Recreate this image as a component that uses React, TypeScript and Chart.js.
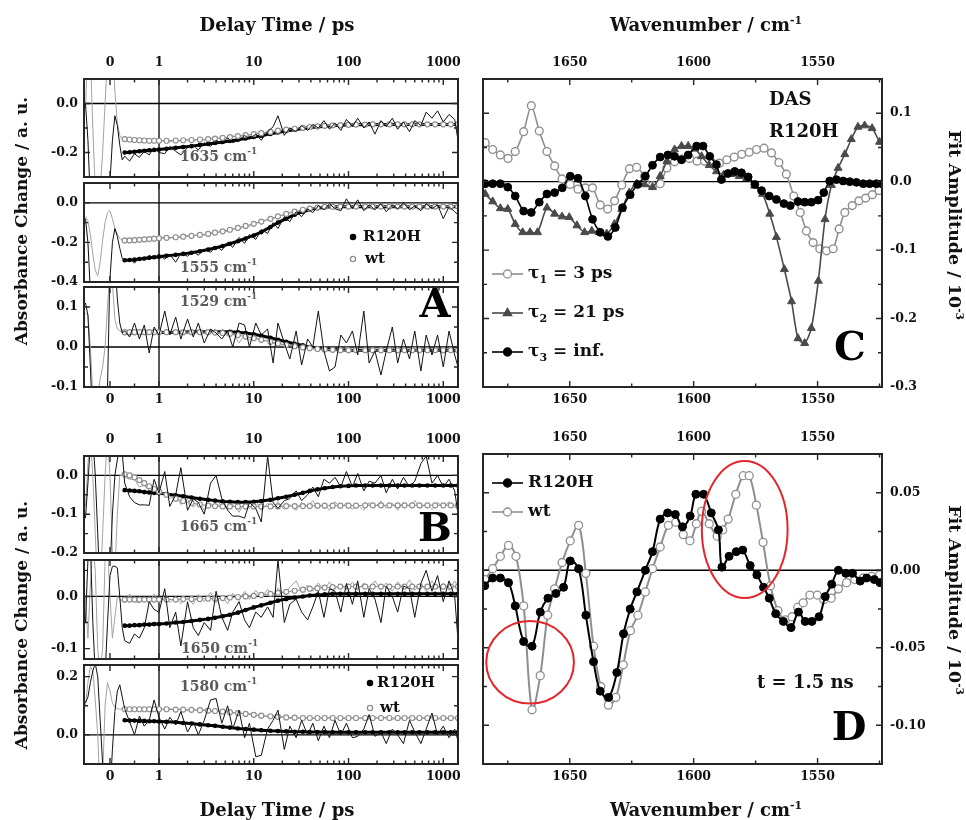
import React, { useEffect, useRef } from 'react';
import { Chart, registerables, Scale } from 'chart.js';

Chart.register(...registerables);

const W = 966;
const H = 820;
const SERIF = '"DejaVu Serif", "Liberation Serif", serif';
const FRAME = '#262626';
const GRAY = '#8f8f8f';
const GRAY_RAW = '#a3a3a3';
const DARK = '#4a4a4a';
const LABEL_GRAY = '#5a5a5a';

// ---------------- delay-time traces (ps) ----------------
const RAW_T = [
  -0.5, -0.45, -0.4, -0.35, -0.3, -0.25, -0.2, -0.15, -0.1, -0.05, 0, 0.05, 0.1, 0.15, 0.2, 0.25, 0.3, 0.4, 0.5, 0.6, 0.7, 0.8, 0.9, 1.0,
  1.15, 1.3, 1.5, 1.7, 2, 2.3, 2.6, 3, 3.5, 4,
  4.6, 5.3, 6, 7, 8, 9, 10.5, 12, 14, 16,
  18, 21, 24, 28, 32, 37, 42, 48, 55, 63,
  72, 83, 95, 110, 125, 145, 165, 190, 220, 250,
  290, 330, 380, 440, 500, 580, 660, 760, 870, 1000,
  1150, 1320, 1430,
];

const FIT_T = [
  0.3, 0.4, 0.5, 0.6, 0.7, 0.8, 0.9, 1.0,
  1.2, 1.5, 1.8, 2.2, 2.7, 3.3, 3.9, 4.7, 5.6, 6.8, 8.2, 10,
  12, 15, 18, 22, 27, 33, 39, 47, 56, 68,
  82, 100, 120, 150, 180, 220, 270, 330, 390, 470,
  560, 680, 820, 1000, 1200, 1430,
];

// 1635 cm-1
const a1RawR120H = [
  0.0, -0.15, -0.4, -0.5, -0.5, -0.45, -0.42, -0.45, -0.5, -0.42, -0.32, -0.15, -0.05, -0.09, -0.17, -0.23, -0.215, -0.235, -0.205, -0.22, -0.195, -0.21, -0.18, -0.2,
  -0.205, -0.175, -0.195, -0.21, -0.18, -0.17, -0.19, -0.16, -0.175, -0.15,
  -0.165, -0.14, -0.16, -0.15, -0.13, -0.145, -0.125, -0.15, -0.115, -0.095,
  -0.05, -0.13, -0.1, -0.115, -0.09, -0.11, -0.085, -0.1, -0.07, -0.105,
  -0.08, -0.11, -0.065, -0.095, -0.06, -0.1, -0.075, -0.125, -0.07, -0.095,
  -0.06, -0.105, -0.075, -0.115, -0.07, -0.09, -0.035, -0.06, -0.03, -0.075,
  -0.045, -0.065, -0.15,
];
const a1RawWt = [
  -0.02, 0.25, 0.2, -0.1, -0.35, -0.4, -0.35, -0.2, 0.0, 0.2, 0.3, 0.25, 0.05, -0.08, -0.13, -0.145, -0.14, -0.15, -0.145, -0.155, -0.148, -0.156, -0.15, -0.158,
  -0.15, -0.157, -0.148, -0.155, -0.146, -0.154, -0.145, -0.15, -0.141, -0.147,
  -0.136, -0.142, -0.132, -0.138, -0.126, -0.13, -0.12, -0.126, -0.112, -0.117,
  -0.106, -0.112, -0.1, -0.106, -0.096, -0.101, -0.091, -0.097, -0.087, -0.093,
  -0.084, -0.091, -0.082, -0.09, -0.081, -0.089, -0.08, -0.09, -0.081, -0.088,
  -0.079, -0.091, -0.08, -0.089, -0.078, -0.092, -0.081, -0.087, -0.079, -0.09,
  -0.08, -0.088, -0.083,
];
const a1FitR120H = [
  -0.2, -0.199, -0.197, -0.195, -0.193, -0.191, -0.19, -0.188,
  -0.185, -0.181, -0.178, -0.174, -0.169, -0.165, -0.161, -0.157, -0.153, -0.148, -0.143, -0.137,
  -0.132, -0.124, -0.118, -0.112, -0.107, -0.102, -0.098, -0.096, -0.093, -0.091,
  -0.089, -0.088, -0.087, -0.087, -0.086, -0.086, -0.086, -0.086, -0.086, -0.086,
  -0.086, -0.086, -0.086, -0.086, -0.086, -0.086,
];
const a1FitWt = [
  -0.145, -0.147, -0.149, -0.15, -0.151, -0.152, -0.152, -0.152,
  -0.152, -0.151, -0.15, -0.149, -0.147, -0.145, -0.143, -0.14, -0.137, -0.133, -0.129, -0.125,
  -0.121, -0.116, -0.111, -0.107, -0.103, -0.099, -0.096, -0.093, -0.091, -0.089,
  -0.088, -0.087, -0.086, -0.086, -0.085, -0.085, -0.085, -0.085, -0.085, -0.085,
  -0.085, -0.085, -0.085, -0.085, -0.085, -0.085,
];

// 1555 cm-1
const a2RawR120H = [
  -0.08, -0.2, -0.45, -0.55, -0.55, -0.55, -0.5, -0.5, -0.55, -0.5, -0.38, -0.2, -0.13, -0.17, -0.23, -0.28, -0.295, -0.28, -0.305, -0.275, -0.29, -0.265, -0.28, -0.26,
  -0.285, -0.26, -0.3, -0.255, -0.27, -0.245, -0.265, -0.235, -0.25, -0.22,
  -0.24, -0.2, -0.225, -0.175, -0.205, -0.16, -0.185, -0.135, -0.155, -0.1,
  -0.13, -0.07, -0.095, -0.045, -0.07, -0.03, -0.05, -0.015, -0.035, -0.005,
  -0.03, -0.04, 0.02, -0.03, 0.015, -0.04, -0.01, -0.035, -0.005, -0.045,
  -0.01, -0.03, 0.0, -0.035, -0.015, -0.04, -0.005, -0.03, -0.01, -0.08,
  -0.02, -0.045, -0.06,
];
const a2RawWt = [
  -0.07, -0.09, -0.16, -0.26, -0.34, -0.37, -0.3, -0.19, -0.1, -0.05, -0.04, -0.08, -0.13, -0.16, -0.18, -0.19, -0.19, -0.195, -0.185, -0.19, -0.18, -0.186, -0.176, -0.182,
  -0.172, -0.18, -0.17, -0.176, -0.164, -0.171, -0.158, -0.164, -0.15, -0.156,
  -0.139, -0.146, -0.13, -0.135, -0.114, -0.12, -0.1, -0.098, -0.082, -0.08,
  -0.066, -0.064, -0.048, -0.047, -0.033, -0.034, -0.024, -0.028, -0.017, -0.024,
  -0.015, -0.023, -0.014, -0.024, -0.013, -0.022, -0.015, -0.025, -0.014, -0.021,
  -0.013, -0.024, -0.015, -0.022, -0.012, -0.025, -0.016, -0.021, -0.013, -0.024,
  -0.015, -0.022, -0.018,
];
const a2FitR120H = [
  -0.29, -0.289, -0.287, -0.284, -0.281, -0.278, -0.275, -0.272,
  -0.268, -0.263, -0.258, -0.252, -0.245, -0.236, -0.228, -0.218, -0.207, -0.194, -0.18, -0.165,
  -0.148, -0.122, -0.1, -0.08, -0.06, -0.045, -0.034, -0.027, -0.022, -0.02,
  -0.02, -0.02, -0.02, -0.02, -0.02, -0.02, -0.02, -0.02, -0.02, -0.02,
  -0.02, -0.02, -0.02, -0.02, -0.02, -0.02,
];
const a2FitWt = [
  -0.19, -0.19, -0.189, -0.187, -0.185, -0.183, -0.181, -0.179,
  -0.177, -0.174, -0.171, -0.167, -0.162, -0.157, -0.151, -0.144, -0.136, -0.127, -0.117, -0.106,
  -0.095, -0.081, -0.069, -0.056, -0.045, -0.035, -0.029, -0.024, -0.021, -0.02,
  -0.019, -0.019, -0.019, -0.019, -0.019, -0.019, -0.019, -0.019, -0.019, -0.019,
  -0.019, -0.019, -0.019, -0.019, -0.019, -0.019,
];

// 1529 cm-1
const a3RawR120H = [
  0.11, 0.08, -0.05, -0.2, -0.25, -0.2, -0.15, -0.2, -0.25, -0.1, 0.2, 0.3, 0.22, 0.12, 0.06, 0.035, 0.04, 0.025, 0.06, 0.02, 0.055, -0.015, 0.05, 0.03,
  0.09, 0.03, 0.075, 0.02, 0.07, 0.025, 0.06, 0.01, 0.045, 0.035,
  0.02, 0.04, 0.0, 0.06, 0.055, 0.0, 0.06, 0.03, 0.045, -0.04,
  0.06, 0.01, -0.03, 0.04, -0.045, 0.02, 0.0, 0.09, -0.01, -0.06,
  -0.05, 0.03, 0.01, 0.04, -0.02, 0.09, -0.04, -0.01, -0.07, -0.01,
  0.05, -0.04, 0.02, -0.03, 0.04, -0.06, 0.03, -0.02, 0.03, -0.05,
  0.04, -0.02, -0.05,
];
const a3RawWt = [
  0.085, 0.08, 0.0, -0.12, -0.15, -0.12, -0.08, -0.05, 0.0, 0.1, 0.2, 0.16, 0.07, 0.045, 0.04, 0.038, 0.04, 0.035, 0.042, 0.034, 0.041, 0.036, 0.043, 0.035,
  0.04, 0.033, 0.041, 0.034, 0.042, 0.032, 0.04, 0.033, 0.039, 0.031,
  0.038, 0.028, 0.035, 0.01, 0.03, 0.018, 0.026, 0.012, 0.018, 0.008,
  0.012, 0.002, 0.008, -0.003, 0.004, -0.006, 0.0, -0.009, -0.003, -0.011,
  -0.004, -0.012, 0.0, -0.01, -0.004, -0.013, -0.003, -0.01, -0.005, -0.012,
  -0.002, -0.011, -0.004, -0.012, 0.0, -0.01, -0.005, -0.013, -0.002, -0.011,
  -0.004, -0.01, -0.006,
];
const a3FitR120H = [
  0.035, 0.035, 0.035, 0.036, 0.036, 0.036, 0.036, 0.036,
  0.036, 0.037, 0.037, 0.038, 0.038, 0.038, 0.038, 0.038, 0.038, 0.037, 0.035, 0.032,
  0.028, 0.023, 0.018, 0.013, 0.008, 0.004, 0.0, -0.003, -0.005, -0.006,
  -0.007, -0.008, -0.008, -0.008, -0.008, -0.008, -0.008, -0.008, -0.008, -0.008,
  -0.008, -0.008, -0.008, -0.008, -0.008, -0.008,
];
const a3FitWt = [
  0.037, 0.037, 0.037, 0.037, 0.037, 0.037, 0.037, 0.037,
  0.037, 0.037, 0.037, 0.037, 0.037, 0.037, 0.036, 0.035, 0.033, 0.03, 0.026, 0.022,
  0.018, 0.013, 0.009, 0.005, 0.002, -0.001, -0.003, -0.005, -0.006, -0.007,
  -0.008, -0.008, -0.008, -0.008, -0.008, -0.008, -0.008, -0.008, -0.008, -0.008,
  -0.008, -0.008, -0.008, -0.008, -0.008, -0.008,
];

// 1665 cm-1
const b1RawR120H = [
  -0.11, -0.02, 0.08, 0.1, 0.0, -0.15, -0.3, -0.3, -0.3, -0.3, -0.25, -0.1, 0.0, 0.04, 0.08, 0.06, -0.02, -0.055, -0.07, -0.076, -0.076, -0.077, -0.01, -0.045,
  0.01, -0.08, -0.05, 0.02, -0.09, -0.06, -0.07, -0.1, -0.02, 0.0,
  -0.06, -0.09, -0.105, -0.105, -0.11, -0.07, -0.085, -0.12, 0.05, -0.07,
  -0.085, -0.065, -0.06, -0.04, -0.065, -0.05, -0.03, -0.055, -0.01, -0.02,
  -0.005, -0.03, 0.01, -0.03, 0.005, -0.04, -0.015, -0.02, 0.0, -0.045,
  -0.01, -0.035, -0.005, -0.03, -0.015, 0.03, 0.05, -0.02, 0.0, -0.03,
  -0.01, -0.04, -0.1,
];
const b1RawWt = [
  -0.08, 0.03, 0.1, 0.0, -0.15, -0.3, -0.3, -0.15, 0.0, 0.1, 0.0, -0.2, -0.25, -0.1, 0.0, 0.0, -0.005, -0.01, -0.01, -0.03, -0.025, -0.04, -0.035, -0.05,
  -0.045, -0.06, -0.05, -0.075, -0.062, -0.082, -0.07, -0.09, -0.072, -0.085,
  -0.065, -0.088, -0.075, -0.095, -0.07, -0.085, -0.065, -0.09, -0.072, -0.085,
  -0.068, -0.088, -0.075, -0.09, -0.07, -0.08, -0.065, -0.085, -0.072, -0.09,
  -0.068, -0.085, -0.07, -0.088, -0.075, -0.09, -0.07, -0.082, -0.066, -0.085,
  -0.072, -0.09, -0.07, -0.08, -0.065, -0.085, -0.072, -0.088, -0.07, -0.082,
  -0.068, -0.084, -0.075,
];
const b1FitR120H = [
  -0.038, -0.039, -0.04, -0.041, -0.043, -0.044, -0.045, -0.046,
  -0.048, -0.051, -0.054, -0.057, -0.06, -0.063, -0.065, -0.067, -0.068, -0.069, -0.069, -0.068,
  -0.066, -0.063, -0.059, -0.055, -0.05, -0.045, -0.04, -0.036, -0.033, -0.03,
  -0.028, -0.027, -0.026, -0.026, -0.026, -0.026, -0.026, -0.026, -0.026, -0.026,
  -0.026, -0.026, -0.026, -0.026, -0.026, -0.026,
];
const b1FitWt = [
  0.003, 0.0, -0.005, -0.012, -0.02, -0.028, -0.035, -0.042,
  -0.05, -0.06, -0.066, -0.071, -0.075, -0.078, -0.079, -0.08, -0.08, -0.08, -0.08, -0.08,
  -0.08, -0.08, -0.08, -0.079, -0.079, -0.079, -0.079, -0.078, -0.078, -0.078,
  -0.078, -0.078, -0.078, -0.077, -0.077, -0.077, -0.077, -0.077, -0.077, -0.077,
  -0.077, -0.077, -0.077, -0.077, -0.077, -0.077,
];

// 1650 cm-1
const b2RawR120H = [
  -0.05, 0.07, 0.1, -0.05, -0.15, -0.15, -0.15, -0.15, -0.15, -0.05, 0.04, 0.058, 0.058, 0.055, 0.0, -0.06, -0.085, -0.09, -0.072, -0.08, -0.06, -0.01, -0.025, -0.03,
  0.015, -0.06, -0.03, -0.095, -0.01, -0.06, -0.075, -0.05, -0.065, 0.01,
  -0.04, -0.065, -0.03, -0.01, -0.045, -0.06, -0.03, -0.04, -0.02, -0.04,
  0.07, -0.05, -0.015, -0.005, -0.03, -0.045, -0.02, 0.01, -0.04, 0.015,
  0.01, -0.03, 0.025, -0.015, 0.03, -0.04, 0.015, -0.005, -0.05, 0.02,
  0.0, -0.03, 0.02, 0.015, -0.04, 0.025, 0.05, 0.01, 0.04, -0.01,
  0.03, 0.0, -0.085,
];
const b2RawWt = [
  0.0, -0.08, 0.02, 0.1, 0.05, -0.1, -0.15, -0.1, 0.07, 0.1, 0.0, -0.08, -0.04, 0.0, -0.005, -0.01, -0.012, 0.005, -0.01, -0.012, -0.002, -0.012, 0.005, -0.01,
  0.003, -0.012, 0.0, -0.014, -0.002, -0.015, 0.004, -0.01, 0.008, -0.012,
  0.002, -0.014, 0.006, -0.008, 0.01, -0.006, 0.012, -0.004, 0.014, 0.0,
  0.016, 0.004, 0.018, 0.03, 0.008, 0.022, 0.01, 0.026, 0.012, 0.028,
  0.014, 0.024, 0.012, 0.028, 0.012, 0.026, 0.014, 0.03, 0.012, 0.026,
  0.01, 0.028, 0.014, 0.032, 0.012, 0.026, 0.01, 0.03, 0.014, 0.026,
  0.012, 0.03, 0.018,
];
const b2FitR120H = [
  -0.056, -0.056, -0.055, -0.055, -0.054, -0.054, -0.053, -0.053,
  -0.052, -0.05, -0.049, -0.047, -0.045, -0.043, -0.041, -0.038, -0.035, -0.031, -0.026, -0.021,
  -0.017, -0.012, -0.008, -0.005, -0.002, 0.0, 0.002, 0.003, 0.004, 0.005,
  0.005, 0.005, 0.005, 0.005, 0.005, 0.005, 0.005, 0.005, 0.005, 0.005,
  0.005, 0.005, 0.005, 0.005, 0.005, 0.005,
];
const b2FitWt = [
  -0.006, -0.006, -0.006, -0.006, -0.006, -0.006, -0.006, -0.006,
  -0.006, -0.006, -0.005, -0.005, -0.005, -0.004, -0.004, -0.003, -0.002, -0.001, 0.0, 0.001,
  0.003, 0.005, 0.007, 0.009, 0.011, 0.013, 0.015, 0.016, 0.017, 0.018,
  0.019, 0.019, 0.019, 0.019, 0.019, 0.019, 0.019, 0.019, 0.019, 0.019,
  0.019, 0.019, 0.019, 0.019, 0.019, 0.019,
];

// 1580 cm-1
const b3RawR120H = [
  0.11, 0.13, 0.18, 0.22, 0.245, 0.2, 0.05, -0.1, -0.2, -0.2, -0.2, -0.05, 0.08, 0.15, 0.172, 0.13, 0.09, 0.045, 0.0, 0.065, 0.03, 0.05, 0.12, 0.06,
  0.02, 0.06, 0.035, 0.08, 0.01, 0.045, 0.0, 0.05, 0.12, 0.125,
  0.04, 0.1, 0.02, 0.085, -0.01, 0.04, -0.075, -0.07, 0.02, 0.05,
  0.085, -0.05, 0.03, -0.01, 0.05, 0.0, 0.04, -0.02, 0.03, -0.01,
  0.05, 0.0, 0.04, -0.01, -0.005, 0.02, 0.07, -0.005, 0.01, -0.03,
  0.02, 0.0, -0.03, 0.05, 0.01, -0.03, 0.02, 0.075, 0.0, 0.03,
  -0.01, 0.02, -0.02,
];
const b3RawWt = [
  0.1, 0.18, 0.235, 0.22, 0.12, 0.0, -0.2, -0.15, 0.1, 0.18, 0.15, 0.11, 0.095, 0.09, 0.088, 0.09, 0.085, 0.092, 0.086, 0.093, 0.087, 0.092, 0.086, 0.091,
  0.086, 0.091, 0.084, 0.09, 0.083, 0.089, 0.081, 0.087, 0.079, 0.085,
  0.077, 0.082, 0.074, 0.079, 0.069, 0.074, 0.065, 0.07, 0.061, 0.067,
  0.059, 0.064, 0.056, 0.062, 0.054, 0.061, 0.055, 0.062, 0.053, 0.06,
  0.054, 0.061, 0.053, 0.06, 0.054, 0.062, 0.053, 0.06, 0.054, 0.061,
  0.052, 0.06, 0.054, 0.061, 0.053, 0.06, 0.054, 0.062, 0.053, 0.06,
  0.054, 0.061, 0.057,
];
const b3FitR120H = [
  0.05, 0.049, 0.049, 0.048, 0.048, 0.047, 0.047, 0.046,
  0.045, 0.043, 0.041, 0.039, 0.036, 0.033, 0.031, 0.028, 0.025, 0.022, 0.02, 0.018,
  0.016, 0.014, 0.013, 0.012, 0.011, 0.011, 0.01, 0.01, 0.01, 0.009,
  0.009, 0.009, 0.009, 0.009, 0.009, 0.009, 0.009, 0.009, 0.009, 0.009,
  0.009, 0.009, 0.009, 0.009, 0.009, 0.009,
];
const b3FitWt = [
  0.088, 0.088, 0.088, 0.088, 0.088, 0.088, 0.088, 0.088,
  0.088, 0.087, 0.087, 0.086, 0.085, 0.083, 0.082, 0.08, 0.078, 0.075, 0.072, 0.069,
  0.066, 0.064, 0.062, 0.06, 0.059, 0.058, 0.058, 0.058, 0.058, 0.058,
  0.058, 0.058, 0.058, 0.058, 0.058, 0.058, 0.058, 0.058, 0.058, 0.058,
  0.058, 0.058, 0.058, 0.058, 0.058, 0.058,
];

// ---------------- decay-associated spectra (cm-1, 10^-3) ----------------
const c1Wn = [
  1684.1, 1681.1, 1678.0, 1674.9, 1672.0, 1668.6, 1665.5, 1662.3, 1659.2, 1656.1,
  1653.1, 1649.8, 1646.7, 1643.7, 1640.8, 1637.7, 1634.7, 1631.9, 1629.0, 1625.9,
  1623.0, 1619.8, 1616.6, 1613.5, 1610.8, 1607.7, 1604.6, 1601.6, 1598.6, 1595.6,
  1592.6, 1589.6, 1586.6, 1583.6, 1580.6, 1577.6, 1574.6, 1571.6, 1568.6, 1565.6,
  1562.6, 1559.6, 1557.0, 1554.5, 1551.8, 1549.1, 1546.4, 1543.7, 1541.3, 1539.0,
  1536.0, 1533.3, 1530.6, 1527.9, 1525.2,
];
const c1Tau3ps = [
  0.057, 0.047, 0.039, 0.034, 0.044, 0.073, 0.111, 0.074, 0.044, 0.023,
  0.004, -0.004, -0.011, -0.009, -0.009, -0.034, -0.04, -0.028, -0.005, 0.019,
  0.021, 0.008, -0.006, -0.003, 0.02, 0.029, 0.033, 0.034, 0.03, 0.03,
  0.028, 0.027, 0.032, 0.036, 0.04, 0.043, 0.047, 0.049, 0.042, 0.028,
  0.011, -0.021, -0.045, -0.072, -0.089, -0.098, -0.101, -0.098, -0.069, -0.045,
  -0.035, -0.028, -0.024, -0.019, -0.013,
];
const c2Wn = [
  1684.1, 1681.1, 1678.0, 1675.0, 1672.0, 1669.0, 1666.0, 1663.0, 1659.2, 1656.1,
  1653.1, 1650.2, 1647.1, 1644.0, 1641.1, 1638.2, 1635.1, 1632.0, 1629.0, 1626.0,
  1623.0, 1619.8, 1616.6, 1613.5, 1610.8, 1607.7, 1604.9, 1602.2, 1599.5, 1596.8,
  1593.7, 1590.8, 1587.9, 1584.8, 1581.6, 1578.6, 1575.4, 1572.2, 1569.3, 1566.6,
  1563.4, 1560.5, 1557.9, 1555.2, 1552.5, 1549.7, 1547.0, 1544.4, 1541.7, 1539.0,
  1536.4, 1533.7, 1531.0, 1528.0, 1525.0,
];
const c2Tau21ps = [
  -0.018, -0.029, -0.039, -0.04, -0.062, -0.074, -0.074, -0.074, -0.038, -0.047,
  -0.051, -0.052, -0.064, -0.074, -0.072, -0.074, -0.076, -0.062, -0.04, -0.016,
  -0.003, -0.004, -0.008, 0.008, 0.03, 0.047, 0.052, 0.052, 0.048, 0.037,
  0.024, 0.015, 0.01, 0.011, 0.008, 0.005, -0.006, -0.018, -0.047, -0.081,
  -0.128, -0.175, -0.229, -0.236, -0.214, -0.145, -0.055, -0.005, 0.02, 0.04,
  0.062, 0.08, 0.082, 0.078, 0.058,
];
const c3Wn = [
  1684.1, 1681.1, 1678.0, 1675.0, 1672.0, 1668.6, 1665.5, 1662.3, 1659.2, 1656.1,
  1653.0, 1649.8, 1646.7, 1643.7, 1640.8, 1637.7, 1634.6, 1631.6, 1628.7, 1625.6,
  1622.6, 1619.5, 1616.6, 1613.5, 1610.4, 1607.7, 1604.9, 1602.2, 1598.8, 1596.2,
  1593.5, 1590.8, 1588.8, 1586.1, 1583.4, 1580.7, 1578.0, 1575.3, 1572.6, 1569.5,
  1566.6, 1563.6, 1561.0, 1557.9, 1555.2, 1552.5, 1549.8, 1547.5, 1545.1, 1542.4,
  1539.7, 1537.0, 1534.3, 1531.6, 1529.0, 1526.3, 1524.0,
];
const c3TauInf = [
  -0.003, -0.003, -0.003, -0.008, -0.021, -0.043, -0.045, -0.03, -0.018, -0.016,
  -0.009, 0.008, 0.005, -0.021, -0.055, -0.074, -0.08, -0.067, -0.038, -0.019,
  -0.004, 0.008, 0.024, 0.036, 0.039, 0.037, 0.032, 0.039, 0.052, 0.052,
  0.037, 0.025, 0.003, 0.012, 0.015, 0.013, 0.007, -0.004, -0.013, -0.021,
  -0.026, -0.032, -0.035, -0.029, -0.03, -0.03, -0.027, -0.016, 0.001, 0.003,
  0.001, 0.0, -0.001, -0.003, -0.003, -0.003, -0.003,
];

// ---------------- spectra at t = 1.5 ns ----------------
const dR120HWn = [
  1684.3, 1681.1, 1678.0, 1674.7, 1672.0, 1668.6, 1665.2, 1661.9, 1658.8, 1655.6,
  1652.5, 1649.8, 1646.4, 1643.5, 1640.4, 1637.7, 1634.3, 1631.0, 1628.3, 1625.6,
  1622.9, 1619.5, 1616.6, 1613.5, 1610.5, 1607.4, 1604.5, 1601.4, 1599.1, 1596.0,
  1592.9, 1590.0, 1588.6, 1585.7, 1582.8, 1580.2, 1577.2, 1574.5, 1571.8, 1569.5,
  1566.9, 1563.8, 1560.7, 1557.7, 1555.0, 1552.3, 1549.4, 1546.9, 1544.3, 1541.6,
  1538.6, 1535.9, 1532.8, 1530.2, 1527.1, 1524.8,
];
const dR120H = [
  -0.01, -0.005, -0.005, -0.008, -0.023, -0.046, -0.049, -0.027, -0.018, -0.015,
  -0.011, 0.006, 0.001, -0.029, -0.059, -0.078, -0.082, -0.066, -0.041, -0.025,
  -0.014, 0.0, 0.012, 0.033, 0.037, 0.036, 0.028, 0.035, 0.049, 0.049,
  0.037, 0.026, 0.002, 0.009, 0.012, 0.013, 0.003, -0.003, -0.011, -0.018,
  -0.028, -0.033, -0.037, -0.027, -0.033, -0.033, -0.03, -0.017, -0.009, 0.0,
  -0.002, -0.002, -0.007, -0.005, -0.006, -0.008,
];
const dWtWn = [
  1684.3, 1681.1, 1678.0, 1674.7, 1671.7, 1668.6, 1665.2, 1661.9, 1658.9, 1656.1,
  1653.1, 1649.8, 1646.4, 1643.5, 1640.4, 1637.5, 1634.4, 1631.4, 1628.4, 1625.5,
  1622.5, 1619.5, 1616.6, 1613.5, 1610.2, 1607.2, 1604.2, 1601.5, 1598.9, 1596.8,
  1593.7, 1590.5, 1588.3, 1586.1, 1583.0, 1580.0, 1577.6, 1574.7, 1572.0, 1569.0,
  1566.0, 1563.0, 1560.3, 1558.0, 1555.8, 1553.1, 1550.1, 1547.5, 1544.5, 1541.6,
  1538.3, 1535.0, 1531.6, 1528.2, 1525.0,
];
const dWt = [
  -0.006, 0.001, 0.009, 0.016, 0.009, -0.023, -0.09, -0.068, -0.029, -0.012,
  0.005, 0.019, 0.029, -0.002, -0.049, -0.075, -0.087, -0.082, -0.061, -0.039,
  -0.029, -0.014, 0.001, 0.015, 0.029, 0.031, 0.023, 0.019, 0.03, 0.038,
  0.03, 0.022, 0.026, 0.033, 0.049, 0.061, 0.061, 0.042, 0.018, -0.01,
  -0.026, -0.032, -0.03, -0.024, -0.021, -0.016, -0.016, -0.019, -0.018, -0.012,
  -0.008, -0.006, -0.005, -0.004, -0.003,
];

// highlighted regions in the 1.5 ns spectra: [centre cm-1, centre value, half-width cm-1, half-height]
const HIGHLIGHTS = [
  [1666.0, -0.0594, 17.7, 0.0266],
  [1579.4, 0.0263, 17.3, 0.0442],
];

// ---------------- axis ticks ----------------
const TIME_MAJOR = [0, 1, 10, 100, 1000];
const TIME_MINOR = [0.5, 2, 3, 4, 5, 6, 7, 8, 9, 20, 30, 40, 50, 60, 70, 80, 90, 200, 300, 400, 500, 600, 700, 800, 900];
const WN_MAJOR = [1650, 1600, 1550];
const WN_MINOR = [1675, 1625, 1575, 1525];

// ---------------- split time axis: linear up to 1 ps, logarithmic above ----------------
class SplitLogScale extends Scale {
  static id = 'splitlog';
  static defaults = {};
  determineDataLimits() {
    this.min = this.options.min;
    this.max = this.options.max;
  }
  buildTicks() {
    return [{ value: this.min }, { value: this.max }];
  }
  getLabelForValue(v) {
    return String(v);
  }
  _splitFraction() {
    const o = this.options;
    const lin = (1 - this.min) * o.pxPerPs;
    const dec = Math.log10(this.max) * o.pxPerDecade;
    return lin / (lin + dec);
  }
  getPixelForValue(v) {
    const f = this._splitFraction();
    const d = v <= 1
      ? ((v - this.min) / (1 - this.min)) * f
      : f + (Math.log10(v) / Math.log10(this.max)) * (1 - f);
    return this.getPixelForDecimal(d);
  }
  getValueForPixel(p) {
    const f = this._splitFraction();
    const d = this.getDecimalForPixel(p);
    if (d <= f) return this.min + (d / f) * (1 - this.min);
    return Math.pow(10, ((d - f) / (1 - f)) * Math.log10(this.max));
  }
}
Chart.register(SplitLogScale);

// ---------------- drawing helpers ----------------
function font(size) {
  return `bold ${size}px ${SERIF}`;
}

function drawRich(ctx, x, y, parts, color, align = 'left') {
  ctx.save();
  ctx.fillStyle = color;
  ctx.textBaseline = 'middle';
  ctx.textAlign = 'left';
  let total = 0;
  const widths = parts.map(([s, size]) => {
    ctx.font = font(size);
    const w = ctx.measureText(s).width;
    total += w;
    return w;
  });
  let cx = align === 'center' ? x - total / 2 : align === 'right' ? x - total : x;
  parts.forEach(([s, size, dy], i) => {
    ctx.font = font(size);
    ctx.fillText(s, cx, y + dy);
    cx += widths[i];
  });
  ctx.restore();
}

function drawMarker(ctx, kind, x, y, r, color) {
  ctx.save();
  ctx.lineWidth = 1.3;
  ctx.strokeStyle = color;
  ctx.fillStyle = kind === 'open' ? '#fff' : color;
  ctx.beginPath();
  if (kind === 'tri') {
    ctx.moveTo(x, y - r * 1.2);
    ctx.lineTo(x + r * 1.05, y + r * 0.65);
    ctx.lineTo(x - r * 1.05, y + r * 0.65);
    ctx.closePath();
  } else {
    ctx.arc(x, y, r, 0, Math.PI * 2);
  }
  ctx.fill();
  ctx.stroke();
  ctx.restore();
}

function legendRow(ctx, x, y, kind, color, parts) {
  ctx.save();
  ctx.strokeStyle = color;
  ctx.lineWidth = 1.6;
  ctx.beginPath();
  ctx.moveTo(x, y);
  ctx.lineTo(x + 31, y);
  ctx.stroke();
  ctx.restore();
  drawMarker(ctx, kind, x + 15.5, y, 4, color);
  drawRich(ctx, x + 36, y, parts, '#111');
}

function cmLabel(ctx, x, y, wn) {
  drawRich(ctx, x, y, [[`${wn} cm`, 14, 0], ['-1', 9, -5]], LABEL_GRAY);
}

function makeDecor(p) {
  return {
    id: 'panelDecor',
    beforeDatasetsDraw(chart) {
      const { ctx, chartArea: a } = chart;
      const { x, y } = chart.scales;
      ctx.save();
      ctx.strokeStyle = '#000';
      ctx.lineWidth = 1.3;
      const yz = y.getPixelForValue(0);
      ctx.beginPath();
      ctx.moveTo(a.left, yz);
      ctx.lineTo(a.right, yz);
      if (p.vLine !== undefined) {
        const xv = x.getPixelForValue(p.vLine);
        ctx.moveTo(xv, a.top);
        ctx.lineTo(xv, a.bottom);
      }
      ctx.stroke();
      ctx.restore();
    },
    afterDatasetsDraw(chart) {
      const { ctx, chartArea: a } = chart;
      const { x, y } = chart.scales;
      ctx.save();
      ctx.strokeStyle = FRAME;
      ctx.lineWidth = 2;
      ctx.strokeRect(a.left, a.top, a.right - a.left, a.bottom - a.top);

      ctx.lineWidth = 1.4;
      ctx.beginPath();
      const xt = (vals, len) => vals.forEach((v) => {
        const px = x.getPixelForValue(v);
        ctx.moveTo(px, a.top);
        ctx.lineTo(px, a.top + len);
        ctx.moveTo(px, a.bottom);
        ctx.lineTo(px, a.bottom - len);
      });
      const yt = (vals, len) => vals.forEach((v) => {
        const py = y.getPixelForValue(v);
        ctx.moveTo(a.left, py);
        ctx.lineTo(a.left + len, py);
        ctx.moveTo(a.right, py);
        ctx.lineTo(a.right - len, py);
      });
      xt(p.xMajor, 6);
      xt(p.xMinor, 3.5);
      yt(p.yMajor, 6);
      yt(p.yMinor, 4);
      ctx.stroke();

      ctx.fillStyle = '#111';
      ctx.font = font(12.5);
      ctx.textBaseline = 'middle';
      ctx.textAlign = 'center';
      p.xMajor.forEach((v) => {
        const px = x.getPixelForValue(v);
        if (p.xTop) ctx.fillText(String(v), px, a.top - 16);
        if (p.xBottom) ctx.fillText(String(v), px, a.bottom + 13);
      });
      p.yMajor.forEach((v) => {
        const py = y.getPixelForValue(v);
        const s = v.toFixed(p.yDigits);
        if (p.yRight) {
          ctx.textAlign = 'left';
          ctx.fillText(s, a.right + 8, py);
        } else {
          ctx.textAlign = 'right';
          ctx.fillText(s, a.left - 6, py);
        }
      });
      ctx.restore();
      if (p.extra) p.extra(ctx, chart);
    },
  };
}

const pts = (xs, ys) => xs.map((v, i) => ({ x: v, y: ys[i] }));

function timeDatasets(s) {
  return [
    { data: pts(RAW_T, s.rawR), borderColor: '#111', borderWidth: 1, pointRadius: 0, tension: 0, clip: 0 },
    {
      data: pts(FIT_T, s.fitW), borderColor: GRAY, borderWidth: 1, pointRadius: 2.5,
      pointBorderWidth: 1.2, pointBorderColor: GRAY, pointBackgroundColor: '#fff', clip: 0,
    },
    {
      data: pts(FIT_T, s.fitR), borderColor: '#000', borderWidth: 3, pointRadius: 2.3,
      pointBorderWidth: 0, pointBackgroundColor: '#000', clip: 0,
    },
    { data: pts(RAW_T, s.rawW), borderColor: GRAY_RAW, borderWidth: 1, pointRadius: 0, tension: 0, clip: 0 },
  ];
}

const TIME_X = { type: 'splitlog', min: -0.53, max: 1430, pxPerPs: 49, pxPerDecade: 94.7 };
const WN_X = { type: 'linear', min: 1524, max: 1685, reverse: true };

const timeLegend = (dx, dy1, dy2, tx1, tx2) => (ctx) => {
  drawMarker(ctx, 'dot', dx, dy1, 2.6, '#000');
  drawRich(ctx, tx1, dy1, [['R120H', 15, 0]], '#111');
  drawMarker(ctx, 'open', dx, dy2, 2.6, GRAY);
  drawRich(ctx, tx2, dy2, [['wt', 15, 0]], '#111');
};

const letter = (ch, cx, cy) => (ctx) => drawRich(ctx, cx, cy, [[ch, 40, 0]], '#000', 'center');

const PANELS = [
  {
    id: 'A1', box: [84, 79, 458, 177], x: TIME_X, y: [-0.3, 0.1], yMajor: [0, -0.2], yMinor: [-0.1], yDigits: 1,
    xMajor: TIME_MAJOR, xMinor: TIME_MINOR, xTop: true, vLine: 1,
    datasets: timeDatasets({ rawR: a1RawR120H, rawW: a1RawWt, fitR: a1FitR120H, fitW: a1FitWt }),
    extra: (ctx) => cmLabel(ctx, 180, 157, 1635),
  },
  {
    id: 'A2', box: [84, 183, 458, 282], x: TIME_X, y: [-0.4, 0.1], yMajor: [0, -0.2, -0.4], yMinor: [-0.1, -0.3], yDigits: 1,
    xMajor: TIME_MAJOR, xMinor: TIME_MINOR, vLine: 1,
    datasets: timeDatasets({ rawR: a2RawR120H, rawW: a2RawWt, fitR: a2FitR120H, fitW: a2FitWt }),
    extra: (ctx) => {
      cmLabel(ctx, 180, 268, 1555);
      timeLegend(353, 237, 259, 363, 365)(ctx);
    },
  },
  {
    id: 'A3', box: [84, 287, 458, 387], x: TIME_X, y: [-0.1, 0.15], yMajor: [0.1, 0, -0.1], yMinor: [0.05, -0.05], yDigits: 1,
    xMajor: TIME_MAJOR, xMinor: TIME_MINOR, xBottom: true, vLine: 1,
    datasets: timeDatasets({ rawR: a3RawR120H, rawW: a3RawWt, fitR: a3FitR120H, fitW: a3FitWt }),
    extra: (ctx) => {
      cmLabel(ctx, 180, 302, 1529);
      letter('A', 435, 307)(ctx);
    },
  },
  {
    id: 'B1', box: [84, 456, 458, 553], x: TIME_X, y: [-0.2, 0.05], yMajor: [0, -0.1, -0.2], yMinor: [-0.05, -0.15], yDigits: 1,
    xMajor: TIME_MAJOR, xMinor: TIME_MINOR, xTop: true, vLine: 1,
    datasets: timeDatasets({ rawR: b1RawR120H, rawW: b1RawWt, fitR: b1FitR120H, fitW: b1FitWt }),
    extra: (ctx) => {
      cmLabel(ctx, 180, 527, 1665);
      letter('B', 435, 531)(ctx);
    },
  },
  {
    id: 'B2', box: [84, 560, 458, 659], x: TIME_X, y: [-0.12, 0.07], yMajor: [0, -0.1], yMinor: [0.05, -0.05], yDigits: 1,
    xMajor: TIME_MAJOR, xMinor: TIME_MINOR, vLine: 1,
    datasets: timeDatasets({ rawR: b2RawR120H, rawW: b2RawWt, fitR: b2FitR120H, fitW: b2FitWt }),
    extra: (ctx) => cmLabel(ctx, 181, 649, 1650),
  },
  {
    id: 'B3', box: [84, 665, 458, 764], x: TIME_X, y: [-0.1, 0.24], yMajor: [0.2, 0], yMinor: [0.1], yDigits: 1,
    xMajor: TIME_MAJOR, xMinor: TIME_MINOR, xBottom: true, vLine: 1,
    datasets: timeDatasets({ rawR: b3RawR120H, rawW: b3RawWt, fitR: b3FitR120H, fitW: b3FitWt }),
    extra: (ctx) => {
      cmLabel(ctx, 180, 687, 1580);
      timeLegend(370, 683, 708, 377, 380)(ctx);
    },
  },
  {
    id: 'C', box: [483, 79, 882, 387], x: WN_X, y: [-0.3, 0.15],
    yMajor: [0.1, 0, -0.1, -0.2, -0.3], yMinor: [0.05, -0.05, -0.15, -0.25], yDigits: 1, yRight: true,
    xMajor: WN_MAJOR, xMinor: WN_MINOR, xTop: true, xBottom: true,
    datasets: [
      {
        data: pts(c3Wn, c3TauInf), borderColor: '#000', borderWidth: 1.6, tension: 0.25, pointRadius: 3.9,
        pointBackgroundColor: '#000', pointBorderColor: '#000', pointBorderWidth: 1, clip: 0,
      },
      {
        data: pts(c2Wn, c2Tau21ps), borderColor: DARK, borderWidth: 1.6, tension: 0.25, pointRadius: 4.6,
        pointStyle: 'triangle', pointBackgroundColor: DARK, pointBorderColor: DARK, pointBorderWidth: 1, clip: 0,
      },
      {
        data: pts(c1Wn, c1Tau3ps), borderColor: GRAY, borderWidth: 1.6, tension: 0.25, pointRadius: 3.9,
        pointBackgroundColor: '#fff', pointBorderColor: GRAY, pointBorderWidth: 1.4, clip: 0,
      },
    ],
    extra: (ctx) => {
      drawRich(ctx, 769, 100, [['DAS', 18, 0]], '#111');
      drawRich(ctx, 769, 132, [['R120H', 18, 0]], '#111');
      legendRow(ctx, 492, 274, 'open', GRAY, [['τ', 17, 0], ['1', 11, 6], [' = 3 ps', 17, 0]]);
      legendRow(ctx, 492, 313, 'tri', DARK, [['τ', 17, 0], ['2', 11, 6], [' = 21 ps', 17, 0]]);
      legendRow(ctx, 492, 352, 'dot', '#000', [['τ', 17, 0], ['3', 11, 6], [' = inf.', 17, 0]]);
      letter('C', 850, 350)(ctx);
    },
  },
  {
    id: 'D', box: [483, 454, 882, 764], x: WN_X, y: [-0.125, 0.075],
    yMajor: [0.05, 0, -0.05, -0.1], yMinor: [0.025, -0.025, -0.075], yDigits: 2, yRight: true,
    xMajor: WN_MAJOR, xMinor: WN_MINOR, xTop: true, xBottom: true,
    datasets: [
      {
        data: pts(dR120HWn, dR120H), borderColor: '#000', borderWidth: 2, tension: 0.35, pointRadius: 4,
        pointBackgroundColor: '#000', pointBorderColor: '#000', pointBorderWidth: 1, clip: 0,
      },
      {
        data: pts(dWtWn, dWt), borderColor: GRAY, borderWidth: 2, tension: 0.35, pointRadius: 4,
        pointBackgroundColor: '#fff', pointBorderColor: GRAY, pointBorderWidth: 1.3, clip: 0,
      },
    ],
    extra: (ctx, chart) => {
      const { x, y } = chart.scales;
      ctx.save();
      ctx.strokeStyle = '#e3262b';
      ctx.lineWidth = 2;
      HIGHLIGHTS.forEach(([wn, v, rw, rv]) => {
        const cx = x.getPixelForValue(wn);
        const cy = y.getPixelForValue(v);
        const rx = Math.abs(x.getPixelForValue(wn + rw) - cx);
        const ry = Math.abs(y.getPixelForValue(v + rv) - cy);
        ctx.beginPath();
        ctx.ellipse(cx, cy, rx, ry, 0, 0, Math.PI * 2);
        ctx.stroke();
      });
      ctx.restore();
      legendRow(ctx, 492, 483, 'dot', '#000', [['R120H', 17, 0]]);
      legendRow(ctx, 492, 512, 'open', GRAY, [['wt', 17, 0]]);
      drawRich(ctx, 757, 683, [['t = 1.5 ns', 18, 0]], '#111');
      letter('D', 849, 730)(ctx);
    },
  },
];

function buildConfig(p) {
  const [l, t, r, b] = p.box;
  return {
    type: 'line',
    data: { datasets: p.datasets },
    options: {
      animation: false,
      responsive: false,
      maintainAspectRatio: false,
      devicePixelRatio: 1,
      events: [],
      layout: { padding: { left: l, top: t, right: W - r, bottom: H - b } },
      scales: {
        x: { ...p.x, display: false },
        y: { type: 'linear', min: p.y[0], max: p.y[1], display: false },
      },
      plugins: { legend: { display: false }, tooltip: { enabled: false } },
    },
    plugins: [makeDecor(p)],
  };
}

function PanelCanvas({ spec }) {
  const ref = useRef(null);
  useEffect(() => {
    const chart = new Chart(ref.current, buildConfig(spec));
    return () => chart.destroy();
  }, [spec]);
  return (
    <canvas
      ref={ref}
      width={W}
      height={H}
      style={{ position: 'absolute', left: 0, top: 0, width: W, height: H }}
    />
  );
}

const titleStyle = (cx, cy, rot = 0, size = 18) => ({
  position: 'absolute',
  left: cx,
  top: cy,
  transform: `translate(-50%, -50%) rotate(${rot}deg)`,
  font: `bold ${size}px ${SERIF}`,
  whiteSpace: 'nowrap',
  color: '#111',
  lineHeight: 1,
});
const supStyle = { fontSize: '0.6em', verticalAlign: '0.7em' };

export default function App() {
  return (
    <div style={{ position: 'absolute', left: 0, top: 0, width: W, height: H, background: '#fff', overflow: 'hidden' }}>
      {PANELS.map((p) => (
        <PanelCanvas key={p.id} spec={p} />
      ))}
      <div style={titleStyle(277, 25)}>Delay Time / ps</div>
      <div style={titleStyle(277, 810)}>Delay Time / ps</div>
      <div style={titleStyle(706, 25)}>Wavenumber / cm<span style={supStyle}>-1</span></div>
      <div style={titleStyle(706, 810)}>Wavenumber / cm<span style={supStyle}>-1</span></div>
      <div style={titleStyle(21, 221, -90, 17)}>Absorbance Change / a. u.</div>
      <div style={titleStyle(21, 625, -90, 17)}>Absorbance Change / a. u.</div>
      <div style={titleStyle(955, 225, 90, 17.5)}>Fit Amplitude / 10<span style={supStyle}>-3</span></div>
      <div style={titleStyle(955, 600, 90, 17.5)}>Fit Amplitude / 10<span style={supStyle}>-3</span></div>
    </div>
  );
}
